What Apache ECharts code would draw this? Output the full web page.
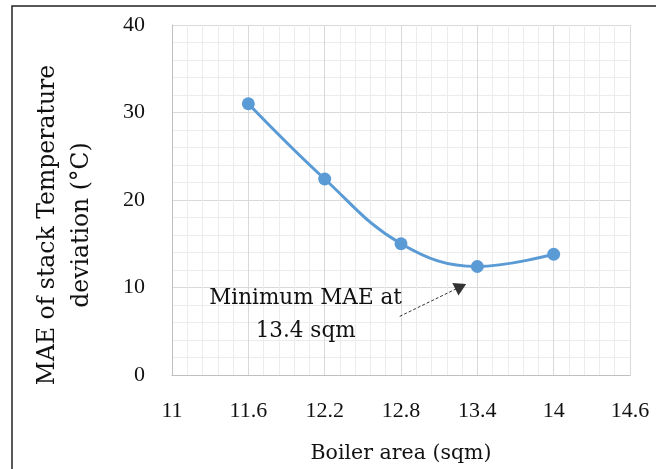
<!DOCTYPE html>
<html><head><meta charset="utf-8">
<script src="https://cdn.jsdelivr.net/npm/echarts@6/dist/echarts.min.js"></script>
<style>html,body{margin:0;padding:0;background:#fff}#c{width:656px;height:469px}</style>
</head><body><div id="c"></div>
<script>
const boilerArea = [11.6, 12.2, 12.8, 13.4, 14.0];
const maeValues = [31.0, 22.4, 15.0, 12.4, 13.8];
const annotationText = 'Minimum MAE at\n13.4 sqm';
const annotationTextPos = [12.05, 6.85];
const arrowFrom = [12.79, 6.7];
const arrowTo = [13.27, 10.1];

const textFont = '"DejaVu Serif", "Liberation Serif", serif';
const numFont = '"Liberation Serif", "DejaVu Serif", serif';
const chart = echarts.init(document.getElementById('c'), null, {renderer: 'canvas'});
chart.setOption({
  animation: false,
  backgroundColor: '#fff',
  graphic: [{
    type: 'rect', shape: {x: 12, y: 6, width: 660, height: 480},
    style: {fill: 'none', stroke: '#222', lineWidth: 1.5}, silent: true
  }],
  grid: {left: 172, right: 26, top: 25, bottom: 92, show: false},
  xAxis: {
    type: 'value', min: 11, max: 14.6, interval: 0.6,
    name: 'Boiler area (sqm)', nameLocation: 'middle', nameGap: 68,
    nameTextStyle: {fontFamily: textFont, fontSize: 20.5, color: '#111'},
    axisLine: {show: true, lineStyle: {color: '#bfbfbf'}},
    axisTick: {show: false},
    axisLabel: {fontFamily: numFont, fontSize: 22, color: '#111', margin: 25,
      formatter: v => String(Math.round(v * 10) / 10)},
    splitLine: {show: true, lineStyle: {color: '#d9d9d9', width: 1}},
    minorTick: {show: false, splitNumber: 5},
    minorSplitLine: {show: true, lineStyle: {color: '#ececec', width: 1}}
  },
  yAxis: {
    type: 'value', min: 0, max: 40, interval: 10,
    name: 'MAE of stack Temperature\ndeviation (°C)', nameLocation: 'middle', nameGap: 73,
    nameTextStyle: {fontFamily: textFont, fontSize: 23.5, color: '#111', lineHeight: 34,
      padding: [0, 50, 0, 0]},
    axisLine: {show: true, lineStyle: {color: '#bfbfbf'}},
    axisTick: {show: false},
    axisLabel: {fontFamily: numFont, fontSize: 22, color: '#111', margin: 27},
    splitLine: {show: true, lineStyle: {color: '#d9d9d9', width: 1}},
    minorTick: {show: false, splitNumber: 5},
    minorSplitLine: {show: true, lineStyle: {color: '#ececec', width: 1}}
  },
  series: [{
    type: 'line', smooth: 0.4,
    data: boilerArea.map((x, i) => [x, maeValues[i]]),
    symbol: 'circle', symbolSize: 13,
    lineStyle: {color: '#5b9bd5', width: 3},
    itemStyle: {color: '#5b9bd5'},
    markPoint: {
      symbol: 'circle', symbolSize: 0, silent: true,
      label: {show: true, position: 'inside', formatter: annotationText,
        fontFamily: textFont, fontSize: 21.5, color: '#111', lineHeight: 33, align: 'center'},
      data: [{coord: annotationTextPos}]
    },
    markLine: {
      silent: true, symbol: ['none', 'triangle'], symbolSize: [14, 12],
      label: {show: false},
      lineStyle: {color: '#333', type: [3, 2], width: 1},
      data: [[{coord: arrowFrom}, {coord: arrowTo}]]
    }
  }]
});
</script></body></html>
